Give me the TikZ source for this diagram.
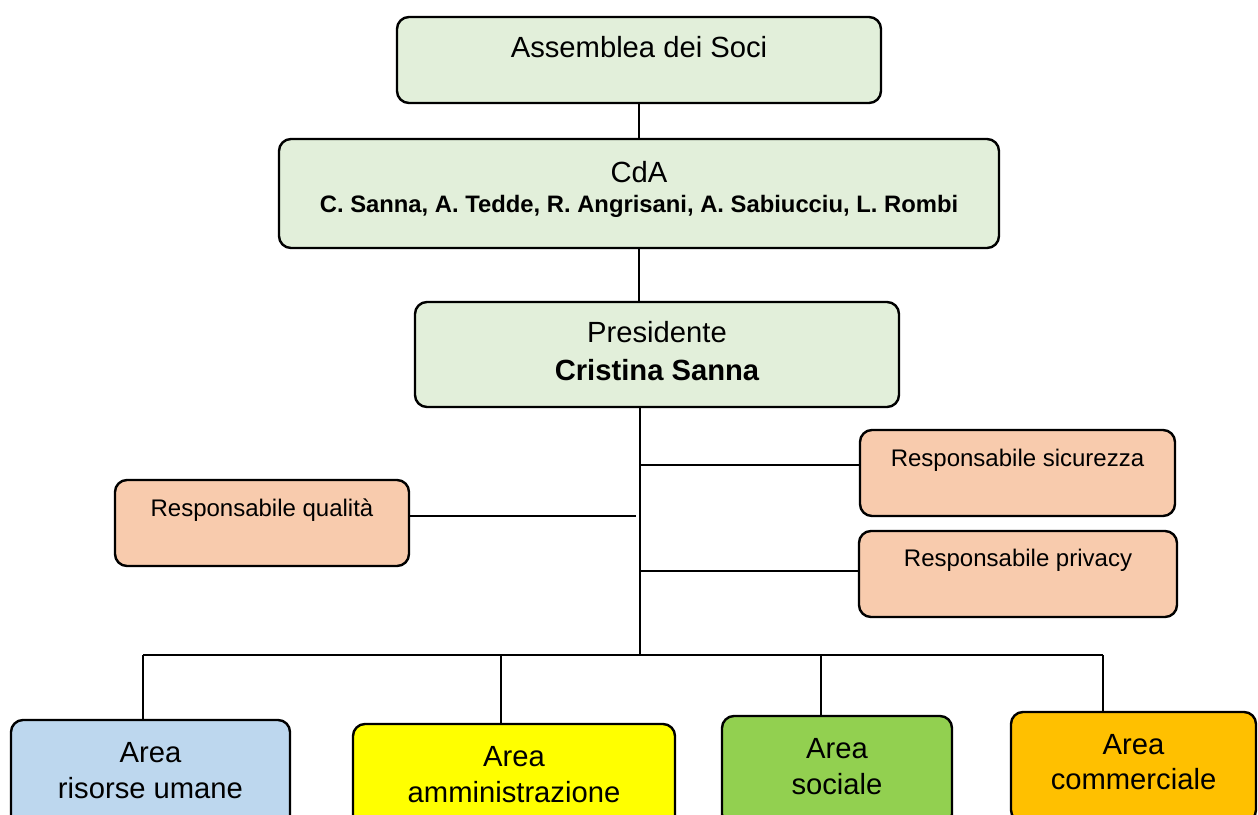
\documentclass[tikz,border=0pt]{standalone}
\usepackage{fontspec}
\setmainfont{Liberation Sans}
\definecolor{lgreen}{HTML}{E2EFDA}
\definecolor{peach}{HTML}{F8CBAD}
\definecolor{lblue}{HTML}{BDD7EE}
\definecolor{yel}{HTML}{FFFF00}
\definecolor{grn}{HTML}{92D050}
\definecolor{orng}{HTML}{FFC000}
\begin{document}
\begin{tikzpicture}[x=0.5pt,y=-0.5pt,
  box/.style={draw=black,line width=1.2pt,rounded corners=6pt,inner sep=0pt},
  big/.style={anchor=base,inner sep=0pt,font=\fontsize{14.6}{17}\selectfont},
  bigb/.style={anchor=base,inner sep=0pt,font=\fontsize{14.6}{17}\selectfont\bfseries},
  small/.style={anchor=base,inner sep=0pt,font=\fontsize{12}{14}\selectfont},
  smallb/.style={anchor=base,inner sep=0pt,font=\fontsize{11.9}{14}\selectfont\bfseries},
  conn/.style={draw=black,line width=1pt}]
\useasboundingbox (0,0) rectangle (1258,814);
\clip (0,0) rectangle (1258,814);
% boxes
\node[box,fill=lgreen,minimum width=242pt,minimum height=43pt] (soci) at (639,60) {};
\node[box,fill=lgreen,minimum width=360pt,minimum height=54.5pt] (cda) at (639,193.5) {};
\node[box,fill=lgreen,minimum width=242pt,minimum height=52.5pt] (pres) at (657,354.5) {};
\node[box,fill=peach,minimum width=157.5pt,minimum height=43pt] (sic) at (1017.5,473) {};
\node[box,fill=peach,minimum width=147pt,minimum height=43pt] (qual) at (262,523) {};
\node[box,fill=peach,minimum width=159pt,minimum height=43pt] (priv) at (1018,574) {};
\node[box,fill=lblue,minimum width=139.5pt,minimum height=55pt] (ru) at (150.5,775) {};
\node[box,fill=yel,minimum width=161pt,minimum height=55pt] (amm) at (514,779) {};
\node[box,fill=grn,minimum width=115pt,minimum height=55pt] (soc) at (837,771) {};
\node[box,fill=orng,minimum width=122.5pt,minimum height=55pt] (com) at (1133.5,767) {};
% texts
\node[big] (soci-t) at (639,57) {Assemblea dei Soci};
\node[big] (cda-t1) at (639,182) {CdA};
\node[smallb] (cda-t2) at (639,212) {C. Sanna, A. Tedde, R. Angrisani, A. Sabiucciu, L. Rombi};
\node[big] (pres-t1) at (657,342) {Presidente};
\node[bigb] (pres-t2) at (657,380) {Cristina Sanna};
\node[small] (sic-t) at (1017.5,466) {Responsabile sicurezza};
\node[small] (qual-t) at (262,516) {Responsabile qualità};
\node[small] (priv-t) at (1018,566) {Responsabile privacy};
\node[big] (ru-t1) at (150.5,762) {Area};
\node[big] (ru-t2) at (150.5,798) {risorse umane};
\node[big] (amm-t1) at (514,766) {Area};
\node[big] (amm-t2) at (514,802) {amministrazione};
\node[big] (soc-t1) at (837,758) {Area};
\node[big] (soc-t2) at (837,794) {sociale};
\node[big] (com-t1) at (1133.5,754) {Area};
\node[big] (com-t2) at (1133.5,789) {commerciale};
% connectors
\coordinate (sociB) at (639,103);
\coordinate (cdaT) at (639,139);
\coordinate (cdaB) at (639,248);
\coordinate (presT) at (639,302);
\coordinate (trunkT) at (640,407);
\coordinate (trunkB) at (640,655);
\coordinate (jsic) at (640,465);
\coordinate (jpriv) at (640,571);
\coordinate (jqual) at (636,516);
\coordinate (b1) at (143,655);
\coordinate (b2) at (501,655);
\coordinate (b3) at (821,655);
\coordinate (b4) at (1103,655);
\draw[conn] (sociB) -- (cdaT);
\draw[conn] (cdaB) -- (presT);
\draw[conn] (trunkT) -- (trunkB);
\draw[conn] (jsic) -- (jsic -| sic.west);
\draw[conn] (jpriv) -- (jpriv -| priv.west);
\draw[conn] (jqual -| qual.east) -- (jqual);
\draw[conn] (b1) -- (b4);
\draw[conn] (b1) -- (b1 |- ru.north);
\draw[conn] (b2) -- (b2 |- amm.north);
\draw[conn] (b3) -- (b3 |- soc.north);
\draw[conn] (b4) -- (b4 |- com.north);
\end{tikzpicture}
\end{document}
